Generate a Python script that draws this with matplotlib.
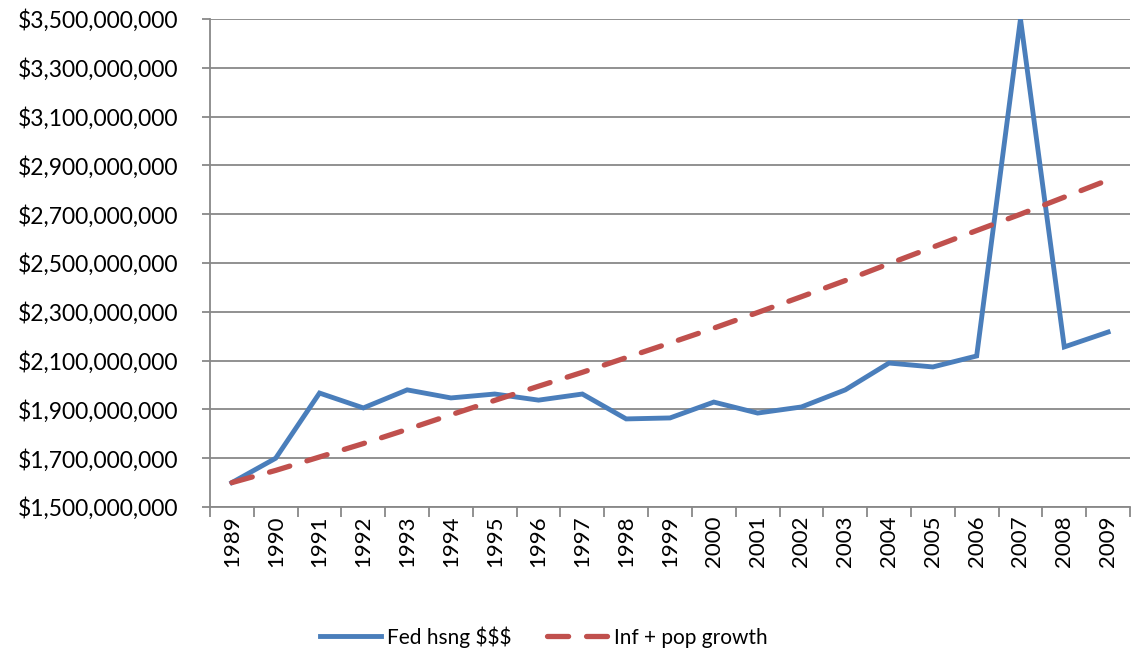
import numpy as np
import matplotlib.pyplot as plt
from matplotlib.ticker import FuncFormatter

years = [str(y) for y in range(1989, 2010)]
fed_hsng = [1.600, 1.700, 1.967, 1.906, 1.980, 1.947, 1.963, 1.938, 1.963,
            1.861, 1.865, 1.930, 1.885, 1.910, 1.980, 2.090, 2.074, 2.119,
            3.500, 2.156, 2.217]
inf_pop = [1.600, 1.650, 1.705, 1.760, 1.818, 1.878, 1.937, 1.995, 2.052,
           2.112, 2.172, 2.233, 2.297, 2.362, 2.428, 2.497, 2.565, 2.633,
           2.700, 2.770, 2.840]
y_ticks = [1.5, 1.7, 1.9, 2.1, 2.3, 2.5, 2.7, 2.9, 3.1, 3.3, 3.5]

fed_hsng = np.array(fed_hsng) * 1e9
inf_pop = np.array(inf_pop) * 1e9

plt.rcParams['font.family'] = ['Lato', 'DejaVu Sans']

fig = plt.figure(figsize=(11.33, 6.54), dpi=100)
ax = fig.add_axes([210 / 1133, 1 - 507 / 654, 920 / 1133, 488 / 654])

x = np.arange(len(years))
ax.plot(x, fed_hsng, color='#4A7EBB', lw=3.5, label='Fed hsng $$$',
        solid_joinstyle='miter', zorder=3)
ax.plot(x, inf_pop, color='#C0504D', lw=3.8, label='Inf + pop growth',
        dashes=(4.0, 3.4), dash_capstyle='round', zorder=3)

ax.set_xlim(-0.5, len(years) - 0.5)
ax.set_ylim(1.5e9, 3.5e9)
ax.set_yticks(np.array(y_ticks) * 1e9)
ax.yaxis.set_major_formatter(FuncFormatter(lambda v, p: '${:,.0f}'.format(v)))
ax.grid(axis='y', color='#888888', lw=1.3)
ax.set_axisbelow(True)

ax.set_xticks(np.arange(-0.5, len(years), 1.0))
ax.set_xticklabels([])
ax.set_xticks(x, minor=True)
ax.set_xticklabels(years, minor=True, rotation=90)
ax.tick_params(axis='x', which='major', length=7, color='#888888', width=1.3)
ax.tick_params(axis='x', which='minor', length=0, labelsize=16, pad=6)
ax.tick_params(axis='y', length=6, color='#888888', width=1.3, labelsize=16.5, pad=17)

for s in ['top', 'right']:
    ax.spines[s].set_visible(False)
for s in ['left', 'bottom']:
    ax.spines[s].set_color('#888888')
    ax.spines[s].set_linewidth(1.3)

fig.legend(loc='center', bbox_to_anchor=(0.48, 1 - 637 / 654), ncol=2,
           frameon=False, fontsize=15, handlelength=2.9, columnspacing=1.7,
           handletextpad=0.3)

fig.savefig('out.png', dpi=100)
